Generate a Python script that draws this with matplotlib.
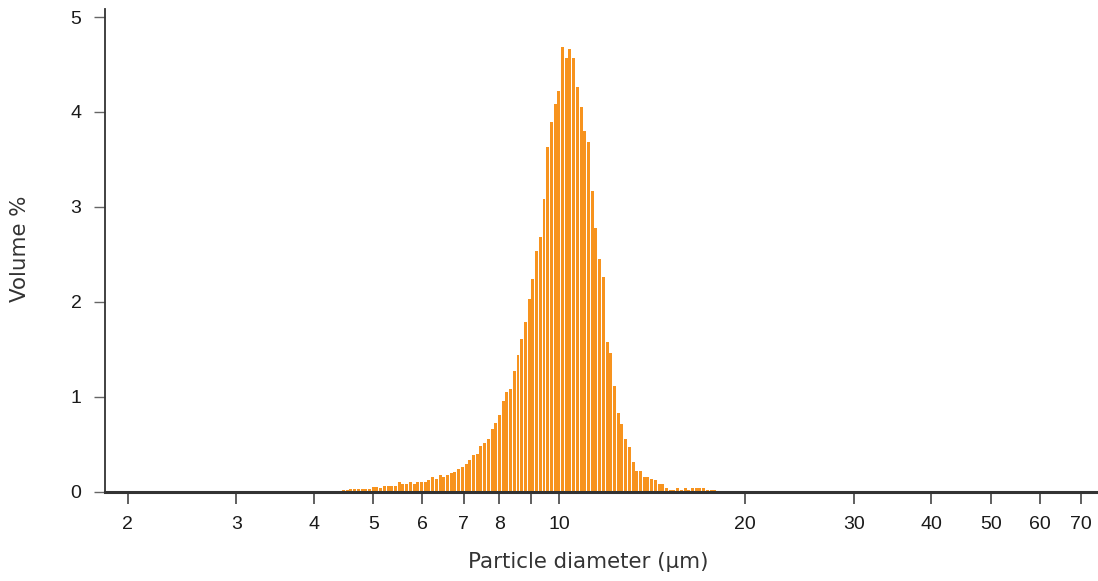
import numpy as np
import matplotlib
matplotlib.use("Agg")
import matplotlib.pyplot as plt
from matplotlib.ticker import FixedLocator, FixedFormatter, NullLocator

plt.rcParams["font.family"] = ["Liberation Sans", "DejaVu Sans"]

# volume % per size bin (101 log-spaced bins)
volume = [
    0.02, 0.02, 0.03, 0.03, 0.03, 0.03, 0.03, 0.03, 0.05, 0.05,
    0.04, 0.063, 0.063, 0.063, 0.063, 0.095, 0.084, 0.084, 0.095, 0.084,
    0.095, 0.105, 0.105, 0.116, 0.148, 0.137, 0.169, 0.158, 0.169, 0.20,
    0.21, 0.232, 0.253, 0.285, 0.327, 0.38,
    0.39, 0.475, 0.506, 0.55, 0.654, 0.717, 0.81, 0.95, 1.044, 1.076,
    1.266, 1.435, 1.603, 1.783, 2.025, 2.236, 2.53, 2.68, 3.08, 3.63,
    3.89, 4.08, 4.22, 4.68, 4.57, 4.66, 4.57, 4.26, 4.05, 3.80,
    3.68, 3.165, 2.774, 2.447, 2.257, 1.572, 1.456, 1.108, 0.823, 0.707,
    0.549, 0.464, 0.306, 0.211, 0.22, 0.148, 0.148, 0.127, 0.116, 0.084,
    0.074, 0.032, 0.021, 0.021, 0.032, 0.021, 0.032, 0.021, 0.032, 0.032,
    0.032, 0.032, 0.021, 0.021, 0.021,
]
# instrument bins: first and last bin centre in um
d_first, d_last = 4.474, 17.86
diameters = np.geomspace(d_first, d_last, len(volume))

xticks = [2, 3, 4, 5, 6, 7, 8, 9, 10, 20, 30, 40, 50, 60, 70]
xticklabels = ["2", "3", "4", "5", "6", "7", "8", "", "10", "20", "30", "40", "50", "60", "70"]
yticks = [0, 1, 2, 3, 4, 5]

W, H = 1098, 581
fig = plt.figure(figsize=(W / 100, H / 100), dpi=100)
ax = fig.add_axes([105 / W, 1 - 491.5 / H, (1097 - 105) / W, (491.5 - 9) / H])

# bar edges in log space, bars fill 80% of each bin
step = np.log10(diameters[1] / diameters[0])
left = diameters * 10 ** (-0.4 * step)
right = diameters * 10 ** (0.4 * step)
ax.bar(left, volume, width=right - left, align="edge", color="#f7931e", linewidth=0)

ax.set_xscale("log")
ax.set_xlim(1.838, 74.3)
ax.set_ylim(0, 5.085)

ax.xaxis.set_major_locator(FixedLocator(xticks))
ax.xaxis.set_major_formatter(FixedFormatter(xticklabels))
ax.xaxis.set_minor_locator(NullLocator())
ax.set_yticks(yticks)

for s in ["top", "right"]:
    ax.spines[s].set_visible(False)
ax.spines["left"].set_color("#333333")
ax.spines["bottom"].set_color("#333333")
ax.spines["left"].set_linewidth(1.3)
ax.spines["bottom"].set_linewidth(2.2)

ax.tick_params(axis="x", length=8.5, width=1.2, color="#444444", pad=9,
               labelsize=14, labelcolor="#1a1a1a")
ax.tick_params(axis="y", length=8, width=1.0, color="#666666", pad=9,
               labelsize=14, labelcolor="#1a1a1a")

ax.set_xlabel("Particle diameter (μm)", fontsize=15.4, color="#333333",
              family="DejaVu Sans", va="baseline")
ax.set_ylabel("Volume %", fontsize=15.4, color="#333333",
              family="DejaVu Sans", va="baseline")
ax.xaxis.set_label_coords((588 - 105) / 992, (491.5 - 568) / 482.5)
ax.yaxis.set_label_coords((26 - 105) / 992, (491.5 - 249) / 482.5)

fig.savefig("out.png", dpi=100)
